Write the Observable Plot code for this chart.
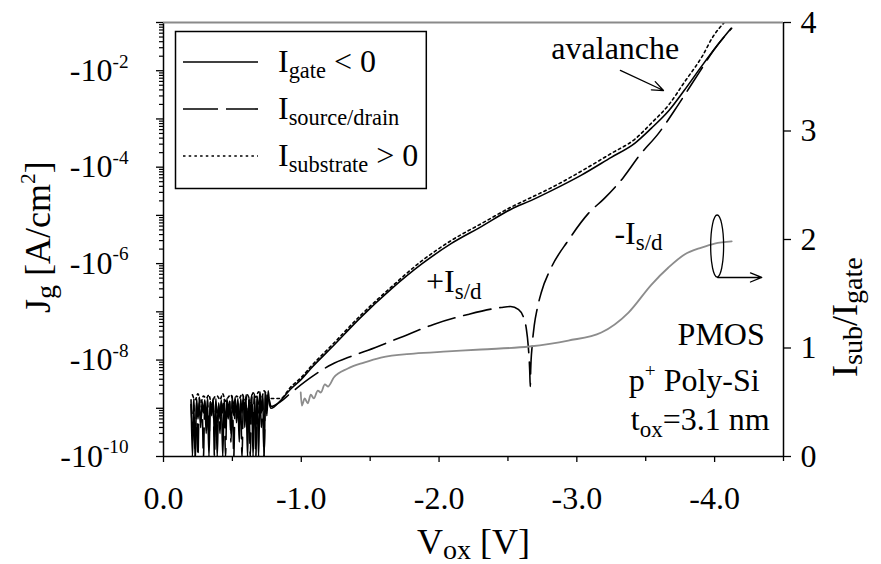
<!DOCTYPE html>
<html>
<head>
<meta charset="utf-8">
<script src="https://cdn.jsdelivr.net/npm/d3@7"></script>
<script src="https://cdn.jsdelivr.net/npm/@observablehq/plot@0.6"></script>
<style>
  body { margin: 0; background: #fff; }
  #chart { position: relative; width: 881px; height: 564px; }
  #chart svg { position: absolute; left: 0; top: 0; overflow: visible; }
</style>
</head>
<body>
<div id="chart"></div>
<script>
// ---- measured data: oxide voltage V_ox (V) vs |J_g| (A/cm^2) ----
// low-bias measurement floor (noisy region)
const noiseV = [-0.20,-0.21,-0.22,-0.23,-0.24,-0.25,-0.26,-0.27,-0.28,-0.29,
  -0.30,-0.31,-0.32,-0.33,-0.34,-0.35,-0.36,-0.37,-0.38,-0.39,
  -0.40,-0.41,-0.42,-0.43,-0.44,-0.45,-0.46,-0.47,-0.48,-0.49,
  -0.50,-0.51,-0.52,-0.53,-0.54,-0.55,-0.56,-0.57,-0.58,-0.59,
  -0.60,-0.61,-0.62,-0.63,-0.64,-0.65,-0.66,-0.67,-0.68,-0.69,
  -0.70,-0.71,-0.72,-0.73,-0.74,-0.75,-0.76,-0.77,-0.78];
const gateNoiseJ = [1.5e-9,1e-10,1.2e-9,1e-10,1.6e-9,6e-10,1.3e-9,4e-10,1.4e-9,8e-10,
  1.5e-9,3e-10,1.2e-9,1e-10,1.4e-9,7e-10,1.6e-9,2.5e-10,1.1e-9,1e-10,
  1.3e-9,6e-10,1.5e-9,1e-10,1.2e-9,4e-10,1.6e-9,9e-10,1.4e-9,3e-10,
  1.5e-9,7e-10,1.7e-9,5e-10,1.3e-9,2e-10,1.6e-9,8e-10,1.8e-9,4e-10,
  1.5e-9,1e-10,1.7e-9,6e-10,1.9e-9,1e-10,1.6e-9,3e-10,1.8e-9,1e-10,
  2.0e-9,8e-10,1.9e-9,1e-10,2.1e-9,7e-10,2.3e-9,1.2e-9,1.0e-9];
const sdNoiseJ = [1.2e-9,4e-10,1.6e-9,1e-10,1.3e-9,1e-10,1.7e-9,5e-10,1.1e-9,1e-10,
  1.4e-9,6e-10,1.6e-9,2e-10,1.3e-9,9e-10,1.5e-9,1e-10,1.6e-9,5e-10,
  1.2e-9,3e-10,1.4e-9,8e-10,1.7e-9,1e-10,1.3e-9,6e-10,1.5e-9,2e-10,
  1.8e-9,1e-10,1.4e-9,7e-10,1.6e-9,4e-10,1.3e-9,1e-10,1.7e-9,9e-10,
  1.9e-9,3e-10,1.5e-9,1e-10,1.8e-9,5e-10,2.0e-9,1e-10,1.7e-9,8e-10,
  2.2e-9,4e-10,1.8e-9,1e-10,2.4e-9,9e-10,2.0e-9,1.4e-9,1.1e-9];
const noiseV2 = [-0.21,-0.23,-0.25,-0.27,-0.29,-0.31,-0.33,-0.35,-0.37,-0.39,
  -0.41,-0.43,-0.45,-0.47,-0.49,-0.51,-0.53,-0.55,-0.57,-0.59,
  -0.61,-0.63,-0.65,-0.67,-0.69,-0.71,-0.73,-0.75,-0.77];
const subNoiseJ = [1.9e-9,1.5e-9,2.0e-9,1.3e-9,1.8e-9,1.6e-9,1.9e-9,1.1e-9,1.7e-9,1.8e-9,
  1.5e-9,2.0e-9,1.4e-9,1.7e-9,1.9e-9,1.2e-9,1.8e-9,1.6e-9,2.0e-9,1.5e-9,
  1.9e-9,1.3e-9,2.1e-9,1.7e-9,2.2e-9,1.6e-9,2.3e-9,1.9e-9,1.6e-9];

// I_gate < 0
const gateV = [-0.85,-0.92,-1.00,-1.07,-1.22,-1.43,-1.65,-1.87,-2.09,-2.31,-2.52,
  -2.67,-2.82,-3.03,-3.25,-3.42,-3.54,-3.67,-3.78,-3.91,-4.02,-4.12];
const gateJ = [1.45e-9,2.45e-9,3.98e-9,6.70e-9,1.82e-8,7.6e-8,2.92e-7,9.6e-7,2.62e-6,5.92e-6,1.33e-5,
  2.05e-5,3.30e-5,6.76e-5,1.60e-4,3.12e-4,6.38e-4,1.51e-3,3.92e-3,1.29e-2,3.37e-2,7.59e-2];

// I_substrate > 0
const subV = [-0.85,-0.92,-1.00,-1.07,-1.22,-1.43,-1.65,-1.87,-2.09,-2.31,-2.52,
  -2.67,-2.82,-3.03,-3.25,-3.42,-3.54,-3.67,-3.78,-3.91,-3.99,-4.07];
const subJ = [1.60e-9,2.70e-9,4.36e-9,7.36e-9,2.01e-8,8.41e-8,3.21e-7,1.11e-6,3.03e-6,6.82e-6,1.47e-5,
  2.36e-5,3.81e-5,8.18e-5,1.93e-4,3.78e-4,8.11e-4,2.01e-3,5.74e-3,1.99e-2,5.18e-2,1.0e-1];

// |I_source/drain| (changes sign near -2.66 V)
const sdV = [-0.85,-0.92,-1.07,-1.22,-1.36,-1.48,-1.72,-1.96,-2.21,-2.45,
  -2.52,-2.575,-2.611,-2.633,-2.647,-2.658,-2.662,-2.665,-2.676,-2.691,
  -2.713,-2.742,-2.815,-2.938,-3.084,-3.20,-3.338,-3.455,-3.593,-3.738,
  -3.884,-3.993,-4.124];
const sdJ = [1.38e-9,2.03e-9,4.36e-9,8.11e-9,1.19e-8,1.58e-8,2.94e-8,5.48e-8,8.83e-8,1.23e-7,
  1.29e-7,1.12e-7,8.04e-8,4.53e-8,2.01e-8,6.08e-9,2.83e-9,6.08e-9,2.01e-8,5.22e-8,
  1.18e-7,2.52e-7,8.34e-7,3.03e-6,1.10e-5,2.25e-5,6.14e-5,1.76e-4,5.02e-4,2.01e-3,
  8.83e-3,2.65e-2,7.59e-2];

// I_sub / I_gate ratio (right axis)
const ratioV = [-0.996,-1.004,-1.025,-1.047,-1.069,-1.091,-1.12,-1.142,-1.171,-1.193,
  -1.236,-1.338,-1.455,-1.578,-1.818,-2.065,-2.305,-2.655,-2.938,-3.178,
  -3.375,-3.542,-3.665,-3.782,-3.905,-4.0,-4.124];
const ratio = [0.59,0.47,0.535,0.49,0.571,0.535,0.608,0.59,0.664,0.645,
  0.728,0.811,0.866,0.912,0.949,0.968,0.986,1.014,1.069,1.143,
  1.327,1.585,1.742,1.862,1.926,1.963,1.982];

// axis ticks and labels
const xMajorTicks = [0, -1, -2, -3, -4];
const xMinorTicks = [-0.5, -1.5, -2.5, -3.5, -4.5];
const decadeExponents = [-10, -9, -8, -7, -6, -5, -4, -3, -2, -1];
const labelledExponents = [-10, -8, -6, -4, -2];
const rightTicks = [0, 1, 2, 3, 4];

const legendLabels = ["I_{gate} < 0", "I_{source/drain}", "I_{substrate} > 0"];
const notesStart = [
  {v: -2.815, r: 3.659, text: "avalanche"},
  {v: -1.905, r: 1.512, text: "+I_{s/d}"},
  {v: -3.273, r: 1.963, text: "-I_{s/d}"}
];
const notesEnd = [
  {v: -4.364, r: 1.032, text: "PMOS"},
  {v: -4.327, r: 0.608, text: "p^{+} Poly-Si"},
  {v: -4.400, r: 0.240, text: "t_{ox}=3.1 nm"}
];
const arrows = [
  {v1: -3.316, r1: 3.558, v2: -3.629, r2: 3.373},
  {v1: -4.022, r1: 1.65, v2: -4.342, r2: 1.65}
];
const ellipseAt = {v: -4.022, r: 1.935, dv: 0.047, dr: 0.286};

// ---- drawing ----
const svgNS = "http://www.w3.org/2000/svg";
const FONT = "'Liberation Serif', 'Times New Roman', Times, serif";
const FS = 32;
const rows = (V, Y) => V.map((v, i) => ({v, y: Y[i]}));
const gateRows = rows(noiseV, gateNoiseJ).concat(rows(gateV, gateJ));
const sdRows = rows(noiseV, sdNoiseJ).concat(rows(sdV, sdJ));
const subRows = rows(noiseV2, subNoiseJ).concat(rows(subV, subJ));
const ratioRows = rows(ratioV, ratio);

const decadeTicks = decadeExponents.map(e => Math.pow(10, e));
const minorTicks = [];
for (const e of decadeExponents.slice(0, -1))
  for (let k = 2; k <= 9; k++) minorTicks.push(k * Math.pow(10, e));

const frame = {
  width: 881, height: 564,
  marginTop: 22, marginRight: 98, marginBottom: 108, marginLeft: 163
};
const lineStyle = {stroke: "#000", strokeWidth: 1.6, curve: "monotone-x", clip: true};

const plot1 = Plot.plot({
  ...frame,
  style: {fontFamily: FONT, fontSize: FS + "px", color: "#000", background: "#fff"},
  x: {domain: [0, -4.5], axis: null},
  y: {type: "log", domain: [1e-10, 1e-1], axis: null},
  marks: [
    Plot.axisY({ticks: minorTicks, tickSize: 4, tickFormat: () => "", label: null, strokeWidth: 1.2}),
    Plot.axisY({ticks: decadeTicks, tickSize: 7, tickPadding: 28, label: null, strokeWidth: 1.3,
      fontSize: FS,
      tickFormat: d => {
        const e = Math.round(Math.log10(d));
        return labelledExponents.includes(e) ? `-10^{${e}}` : "";
      }}),
    Plot.axisX({ticks: xMinorTicks, tickSize: 5, tickFormat: () => "", label: null, strokeWidth: 1.3}),
    Plot.axisX({ticks: xMajorTicks, tickSize: 6, tickPadding: 24, label: null, strokeWidth: 1.3,
      fontSize: FS, tickFormat: d => d.toFixed(1)}),
    Plot.ruleX([0], {stroke: "#000", strokeWidth: 1.5}),
    Plot.ruleY([1e-10], {stroke: "#000", strokeWidth: 1.5}),
    Plot.line(gateRows, {x: "v", y: "y", ...lineStyle}),
    Plot.line(sdRows, {x: "v", y: "y", ...lineStyle, strokeDasharray: "28,9"}),
    Plot.line(subRows, {x: "v", y: "y", ...lineStyle, strokeDasharray: "2.5,3.2"})
  ]
});

const noteStyle = {x: "v", y: "r", text: "text", lineAnchor: "bottom", fontSize: FS, fill: "#000"};
const plot2 = Plot.plot({
  ...frame,
  style: {fontFamily: FONT, fontSize: FS + "px", color: "#000", background: "transparent"},
  x: {domain: [0, -4.5], axis: null},
  y: {domain: [0, 4], axis: null},
  marks: [
    Plot.axisY({anchor: "right", ticks: rightTicks, tickSize: 7, tickPadding: 10, label: null,
      strokeWidth: 1.3, fontSize: FS, tickFormat: d => String(d)}),
    Plot.ruleX([-4.5], {stroke: "#000", strokeWidth: 1.5}),
    Plot.ruleY([4], {stroke: "#8a8a8a", strokeWidth: 1.8}),
    Plot.line(ratioRows, {x: "v", y: "y", stroke: "#8c8c8c", strokeWidth: 1.8, curve: "monotone-x"}),
    Plot.arrow(arrows, {x1: "v1", y1: "r1", x2: "v2", y2: "r2", stroke: "#000", strokeWidth: 1.3,
      headLength: 14, headAngle: 44}),
    Plot.text(notesStart, {...noteStyle, textAnchor: "start"}),
    Plot.text(notesEnd, {...noteStyle, textAnchor: "end"})
  ]
});

const host = document.getElementById("chart");
host.appendChild(plot1);
host.appendChild(plot2);

// sub/superscript markup: _{..} and ^{..}
function richify(el, fsOverride, subShift, subScale) {
  const s = el.textContent;
  if (!/[_^]\{/.test(s)) return;
  const fs = fsOverride || parseFloat(getComputedStyle(el).fontSize) || FS;
  const down = subShift == null ? 0.2 : subShift;
  const subSize = subScale || 0.72;
  while (el.firstChild) el.removeChild(el.firstChild);
  const re = /([_^])\{([^}]*)\}/g;
  let last = 0, shift = 0, m;
  const add = (txt, kind) => {
    const t = document.createElementNS(svgNS, "tspan");
    t.textContent = txt;
    const target = kind === "_" ? down * fs : kind === "^" ? -0.42 * fs : 0;
    if (target !== shift) t.setAttribute("dy", target - shift);
    shift = target;
    if (kind) t.setAttribute("font-size", (kind === "_" ? subSize : 0.6) * fs);
    el.appendChild(t);
  };
  while ((m = re.exec(s))) {
    if (m.index > last) add(s.slice(last, m.index), null);
    add(m[2], m[1]);
    last = re.lastIndex;
  }
  if (last < s.length) add(s.slice(last), null);
}

const overlay = d3.select(plot2);
const sx = plot2.scale("x"), sy = plot2.scale("y");

// ellipse marking the curve read on the right axis
overlay.append("ellipse")
  .attr("cx", sx.apply(ellipseAt.v)).attr("cy", sy.apply(ellipseAt.r))
  .attr("rx", Math.abs(sx.apply(ellipseAt.v + ellipseAt.dv) - sx.apply(ellipseAt.v)))
  .attr("ry", Math.abs(sy.apply(ellipseAt.r + ellipseAt.dr) - sy.apply(ellipseAt.r)))
  .attr("fill", "none").attr("stroke", "#000").attr("stroke-width", 1.3);

// axis titles
const TS = 36;
function title(txt, x, y, rotate) {
  const t = overlay.append("text")
    .attr("transform", `translate(${x},${y})` + (rotate ? " rotate(-90)" : ""))
    .attr("text-anchor", "start").attr("font-family", FONT).attr("font-size", TS)
    .attr("fill", "#000").text(txt);
  richify(t.node(), TS, 0.15, 0.78);
}
title("V_{ox} [V]", 417, 554, false);
title("J_{g} [A/cm^{2}]", 50, 313, true);
title("I_{sub}/I_{gate}", 857, 377, true);

// legend
const lg = overlay.append("g");
const box = lg.append("rect").attr("x", 175.5).attr("y", 31.5).attr("height", 157)
  .attr("fill", "#fff").attr("stroke", "#000").attr("stroke-width", 1.5);
const legendDash = [null, "35,8", "2.5,3.2"];
let maxRight = 0;
legendLabels.forEach((lab, i) => {
  const y = 62 + i * 47;
  lg.append("line").attr("x1", 183).attr("x2", 258).attr("y1", y).attr("y2", y)
    .attr("stroke", "#000").attr("stroke-width", 1.6)
    .attr("stroke-dasharray", legendDash[i]);
  const t = lg.append("text").attr("x", 278).attr("y", y + 10)
    .attr("text-anchor", "start")
    .attr("font-family", FONT).attr("font-size", FS).attr("fill", "#000").text(lab);
  richify(t.node(), FS, 0.2, 0.7);
  const bb = t.node().getBBox();
  maxRight = Math.max(maxRight, bb.x + bb.width);
});
box.attr("width", maxRight + 8 - 175.5);

document.querySelectorAll("#chart text").forEach(el => richify(el));
</script>
</body>
</html>
